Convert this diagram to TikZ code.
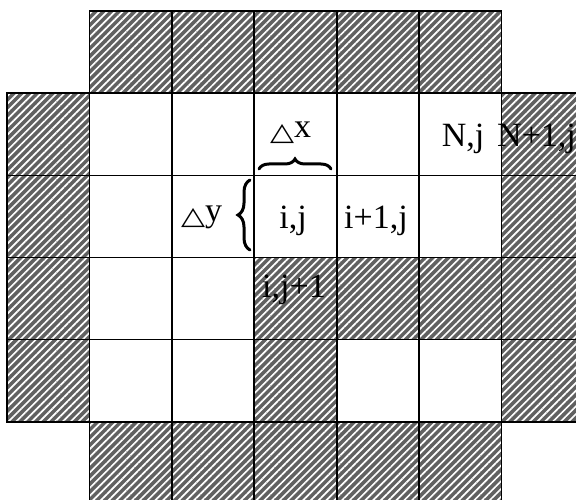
\documentclass[tikz,border=0pt]{standalone}
\usepackage{graphicx}
\usepackage{fontspec}
\setmainfont{Liberation Serif}
\newfontfamily\symfont{DejaVu Sans}
\usetikzlibrary{patterns.meta,decorations.pathreplacing}
\newcommand{\tri}{\raisebox{-2.5pt}{\scalebox{1.25}[1]{\symfont\fontsize{25}{25}\selectfont △}}}
\tikzset{
  cellbase/.style={inner sep=0pt, outer sep=0pt, minimum width=82.43pt, minimum height=82.17pt, anchor=north west},
  hatchcell/.style={cellbase, preaction={fill=black!62}, pattern={Lines[angle=45,distance=5.5pt,line width=1.7pt]}, pattern color=white, draw=black, line width=1.6pt},
  whitecell/.style={cellbase, fill=white, draw=black, line width=1.6pt},
  lbl/.style={font=\fontsize{34}{34}\selectfont, inner sep=0pt, text=black},
  bracestyle/.style={decorate, decoration={brace, amplitude=10pt}, line width=3pt, line cap=round},
}
\begin{document}
\begin{tikzpicture}[x=1pt,y=-1pt]
\useasboundingbox (0,0) rectangle (576,500);
\clip (0,0) rectangle (576,500);
% white cells
\foreach \c/\r in {1/1,2/1,3/1,4/1,5/1,1/2,2/2,3/2,4/2,5/2,1/3,2/3,1/4,2/4,4/4,5/4}
  \node[whitecell] (c\c r\r) at ({7+82.43*\c},{11+82.17*\r}) {};
% hatched cells
\foreach \c/\r in {1/0,2/0,3/0,4/0,5/0,0/1,6/1,0/2,6/2,0/3,3/3,4/3,5/3,6/3,0/4,3/4,6/4,1/5,2/5,3/5,4/5,5/5}
  \node[hatchcell] (c\c r\r) at ({7+82.43*\c},{11+82.17*\r}) {};
% labels
\node[lbl, anchor=base west] (dx) at (270,138) {\tri x};
\node[lbl, anchor=base west] (dy) at (181,222) {\tri y};
\node[lbl, anchor=base] (ij) at (293,228) {i,j};
\node[lbl, anchor=base] (ip1j) at (376,228) {i+1,j};
\node[lbl, anchor=base] (ijp1) at (294,297) {i,j+1};
\node[lbl, anchor=base] (Nj) at (463,147) {N,j};
\node[lbl, anchor=base west] (Np1j) at (497,147) {N+1,j};
% braces
\coordinate (bxa) at (259,169);
\coordinate (bxb) at (331,169);
\coordinate (bya) at (250,250);
\coordinate (byb) at (250,180);
\draw[bracestyle] (bxa) -- (bxb);
\draw[bracestyle, decoration={brace, amplitude=12pt}] (bya) -- (byb);
\end{tikzpicture}
\end{document}
